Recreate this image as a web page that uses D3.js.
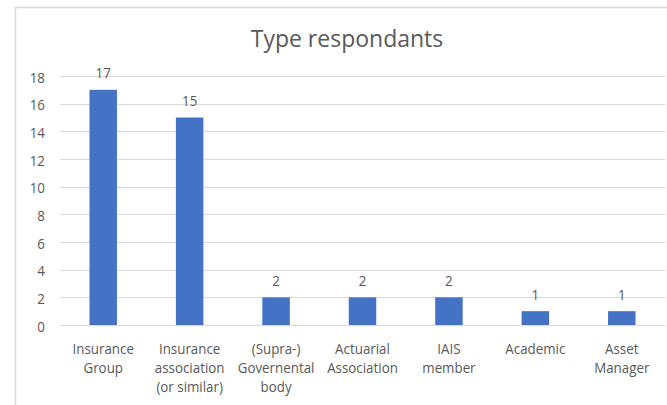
<!DOCTYPE html>
<html>
<head>
<meta charset="utf-8">
<script src="https://cdn.jsdelivr.net/npm/d3@7"></script>
<style>
  html, body { margin: 0; padding: 0; background: #fff; }
  svg { display: block; }
  text { font-family: "Open Sans", "Noto Sans", sans-serif; fill: #595959; }
</style>
</head>
<body>
<svg id="chart" width="667" height="405"></svg>
<script>
// Respondent types and counts
const categories = [
  ["Insurance", "Group"],
  ["Insurance", "association", "(or similar)"],
  ["(Supra-)", "Governental", "body"],
  ["Actuarial", "Association"],
  ["IAIS", "member"],
  ["Academic"],
  ["Asset", "Manager"]
];
const counts = [17, 15, 2, 2, 2, 1, 1];
const yTicks = [0, 2, 4, 6, 8, 10, 12, 14, 16, 18];
const title = "Type respondants";

const svg = d3.select("#chart");
const plot = { left: 60, right: 665, top: 76, bottom: 325 };
const SX = 0.89;          // horizontal squeeze for the small labels
const LABEL_SIZE = "15px";

// Chart area frame
svg.append("rect")
  .attr("x", 15.5).attr("y", 7.5)
  .attr("width", 700).attr("height", 500)
  .attr("fill", "#fff")
  .attr("stroke", "#d9d9d9").attr("stroke-width", 1.5);

const keys = categories.map((c, i) => i);
const x = d3.scaleBand().domain(keys).range([plot.left, plot.right]).paddingInner(0).paddingOuter(0);
const y = d3.scaleLinear().domain([0, 18]).range([plot.bottom, plot.top]);
const barW = x.bandwidth() * 0.318;

// Gridlines
svg.append("g")
  .selectAll("line")
  .data(yTicks)
  .join("line")
  .attr("x1", plot.left).attr("x2", plot.right)
  .attr("y1", d => Math.round(y(d)) + 0.5).attr("y2", d => Math.round(y(d)) + 0.5)
  .attr("stroke", "#d9d9d9").attr("stroke-width", 1);

// Y axis labels
const yAxis = d3.axisLeft(y).tickValues(yTicks).tickSize(0).tickPadding(0);
const ya = svg.append("g").attr("transform", "translate(45,0)").call(yAxis);
ya.select(".domain").remove();
ya.selectAll(".tick text")
  .attr("x", 0).attr("dy", null).attr("y", 6)
  .attr("transform", `scale(${SX},1)`)
  .style("font-family", '"Open Sans", "Noto Sans", sans-serif')
  .style("font-size", LABEL_SIZE).attr("fill", "#595959");

// Bars
svg.append("g")
  .selectAll("rect")
  .data(counts)
  .join("rect")
  .attr("x", (d, i) => x(i) + (x.bandwidth() - barW) / 2)
  .attr("width", barW)
  .attr("y", d => y(d))
  .attr("height", d => y(0) - y(d))
  .attr("fill", "#4472c4");

// Value labels
svg.append("g")
  .selectAll("text")
  .data(counts)
  .join("text")
  .attr("transform", (d, i) => `translate(${x(i) + x.bandwidth() / 2},${y(d) - 11.5}) scale(${SX},1)`)
  .attr("text-anchor", "middle")
  .style("font-size", LABEL_SIZE)
  .text(d => d);

// Category labels (wrapped)
const cat = svg.append("g")
  .selectAll("text")
  .data(categories)
  .join("text")
  .attr("transform", (d, i) => `translate(${x(i) + x.bandwidth() / 2},354) scale(${SX},1)`)
  .attr("text-anchor", "middle")
  .style("font-size", LABEL_SIZE);
cat.selectAll("tspan")
  .data(d => d)
  .join("tspan")
  .attr("x", 0)
  .attr("y", (d, j) => j * 19)
  .text(d => d);

// Title
svg.append("text")
  .attr("x", 347).attr("y", 47)
  .attr("text-anchor", "middle")
  .style("font-size", "23px")
  .text(title);
</script>
</body>
</html>
